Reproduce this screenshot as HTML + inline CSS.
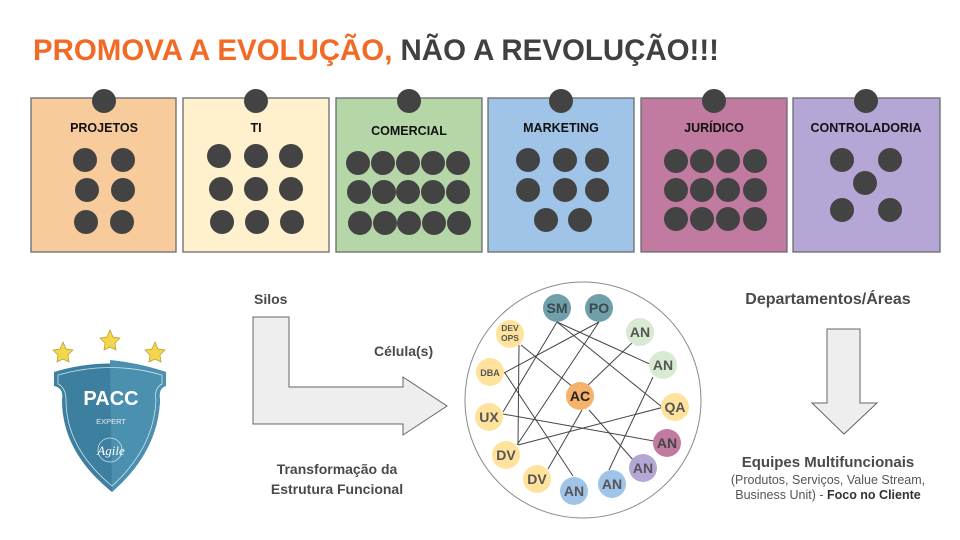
<!DOCTYPE html>
<html><head><meta charset="utf-8"><style>
html,body{margin:0;padding:0;background:#fff;}
svg{display:block;font-family:"Liberation Sans",sans-serif;}
</style></head><body>
<svg width="960" height="540" viewBox="0 0 960 540" xmlns="http://www.w3.org/2000/svg">
<text x="33" y="60" font-size="30" font-weight="bold" textLength="686" lengthAdjust="spacingAndGlyphs"><tspan fill="#f26a25">PROMOVA A EVOLUÇÃO,</tspan><tspan fill="#404040"> NÃO A REVOLUÇÃO!!!</tspan></text>

<g stroke="#6b6b6b" stroke-width="1.3">
<rect x="31" y="98" width="145" height="154" fill="#f8cb9d"/>
<rect x="183" y="98" width="146" height="154" fill="#fff1cd"/>
<rect x="336" y="98" width="146" height="154" fill="#b5d7a8"/>
<rect x="488" y="98" width="146" height="154" fill="#9fc4e8"/>
<rect x="641" y="98" width="146" height="154" fill="#c27ba0"/>
<rect x="793" y="98" width="147" height="154" fill="#b4a7d6"/>
</g>
<g fill="#434343">
<circle cx="104" cy="101" r="12"/><circle cx="256" cy="101" r="12"/><circle cx="409" cy="101" r="12"/>
<circle cx="561" cy="101" r="12"/><circle cx="714" cy="101" r="12"/><circle cx="866" cy="101" r="12"/>
</g>
<g font-size="12.5" font-weight="bold" fill="#111" text-anchor="middle">
<text x="104" y="132">PROJETOS</text><text x="256" y="132">TI</text><text x="409" y="135">COMERCIAL</text>
<text x="561" y="132">MARKETING</text><text x="714" y="132">JURÍDICO</text><text x="866" y="132">CONTROLADORIA</text>
</g>
<g fill="#434343">
<circle cx="85" cy="160" r="12"/><circle cx="123" cy="160" r="12"/>
<circle cx="87" cy="190" r="12"/><circle cx="123" cy="190" r="12"/>
<circle cx="86" cy="222" r="12"/><circle cx="122" cy="222" r="12"/>
<circle cx="219" cy="156" r="12"/><circle cx="256" cy="156" r="12"/><circle cx="291" cy="156" r="12"/>
<circle cx="221" cy="189" r="12"/><circle cx="256" cy="189" r="12"/><circle cx="291" cy="189" r="12"/>
<circle cx="222" cy="222" r="12"/><circle cx="257" cy="222" r="12"/><circle cx="292" cy="222" r="12"/>
<circle cx="358" cy="163" r="12"/><circle cx="383" cy="163" r="12"/><circle cx="408" cy="163" r="12"/><circle cx="433" cy="163" r="12"/><circle cx="458" cy="163" r="12"/>
<circle cx="359" cy="192" r="12"/><circle cx="384" cy="192" r="12"/><circle cx="408" cy="192" r="12"/><circle cx="433" cy="192" r="12"/><circle cx="458" cy="192" r="12"/>
<circle cx="360" cy="223" r="12"/><circle cx="385" cy="223" r="12"/><circle cx="409" cy="223" r="12"/><circle cx="434" cy="223" r="12"/><circle cx="459" cy="223" r="12"/>
<circle cx="528" cy="160" r="12"/><circle cx="565" cy="160" r="12"/><circle cx="597" cy="160" r="12"/>
<circle cx="528" cy="190" r="12"/><circle cx="565" cy="190" r="12"/><circle cx="597" cy="190" r="12"/>
<circle cx="546" cy="220" r="12"/><circle cx="580" cy="220" r="12"/>
<circle cx="676" cy="161" r="12"/><circle cx="702" cy="161" r="12"/><circle cx="728" cy="161" r="12"/><circle cx="755" cy="161" r="12"/>
<circle cx="676" cy="190" r="12"/><circle cx="702" cy="190" r="12"/><circle cx="728" cy="190" r="12"/><circle cx="755" cy="190" r="12"/>
<circle cx="676" cy="219" r="12"/><circle cx="702" cy="219" r="12"/><circle cx="728" cy="219" r="12"/><circle cx="755" cy="219" r="12"/>
<circle cx="842" cy="160" r="12"/><circle cx="890" cy="160" r="12"/><circle cx="865" cy="183" r="12"/>
<circle cx="842" cy="210" r="12"/><circle cx="890" cy="210" r="12"/>
</g>

<g>
<path d="M63,340 l3,7 7,1 -5,5 1,7 -6,-3 -6,3 1,-7 -5,-5 7,-1z" transform="translate(0,2)" fill="#f2d64b" stroke="#b59a2a" stroke-width="0.7"/>
<path d="M110,330 l3,7 7,1 -5,5 1,7 -6,-3 -6,3 1,-7 -5,-5 7,-1z" fill="#f2d64b" stroke="#b59a2a" stroke-width="0.7"/>
<path d="M155,342 l3,7 7,1 -5,5 1,7 -6,-3 -6,3 1,-7 -5,-5 7,-1z" fill="#f2d64b" stroke="#b59a2a" stroke-width="0.7"/>
<path d="M54,372 Q110,355 166,372 L166,386 Q158,388 160,400 Q158,452 112,492 Q62,452 62,400 Q64,388 54,386 Z" fill="#3d7f9f"/>
<path d="M110,360 Q140,363 166,372 L166,386 Q158,388 160,400 Q158,452 112,492 Z" fill="#4b90ae"/>
<path d="M58,375 Q110,360 162,375 L162,384 Q154,388 156,400 Q154,448 112,486 Q66,448 66,400 Q66,388 58,384 Z" fill="none" stroke="#cfe3ec" stroke-width="0.8"/>
<text x="111" y="405" font-size="20" font-weight="bold" fill="#fff" text-anchor="middle">PACC</text>
<text x="111" y="424" font-size="7.5" fill="#e6f0f5" text-anchor="middle">EXPERT</text>
<circle cx="110" cy="450" r="12" fill="none" stroke="#cfe3ec" stroke-width="0.8"/>
<text x="111" y="455" font-size="13" font-style="italic" font-family="Liberation Serif,serif" fill="#fff" text-anchor="middle">Agile</text>
</g>

<path d="M253,317 L289,317 L289,387 L403,387 L403,377 L447,406 L403,435 L403,424 L253,424 Z" fill="#eeeeee" stroke="#666" stroke-width="1"/>
<g fill="#4a4a4a" font-weight="bold">
<text x="254" y="304" font-size="14">Silos</text>
<text x="374" y="356" font-size="14">Célula(s)</text>
<text x="337" y="474" font-size="14" text-anchor="middle">Transformação da</text>
<text x="337" y="494" font-size="14" text-anchor="middle">Estrutura Funcional</text>
<text x="828" y="304" font-size="16" text-anchor="middle">Departamentos/Áreas</text>
<text x="828" y="467" font-size="15" text-anchor="middle">Equipes Multifuncionais</text>
</g>
<text x="828" y="484" font-size="12.5" fill="#555" text-anchor="middle">(Produtos, Serviços, Value Stream,</text>
<text x="828" y="499" font-size="12.5" fill="#555" text-anchor="middle">Business Unit) - <tspan font-weight="bold" fill="#333">Foco no Cliente</tspan></text>
<path d="M827,329 L860,329 L860,403 L877,403 L844,434 L812,403 L827,403 Z" fill="#eeeeee" stroke="#666" stroke-width="1"/>

<circle cx="583" cy="400" r="118" fill="#fff" stroke="#888" stroke-width="1"/>
<g stroke="#444" stroke-width="1">
<line x1="557" y1="322" x2="503" y2="412"/>
<line x1="557" y1="322" x2="654" y2="366"/>
<line x1="557" y1="322" x2="662" y2="407"/>
<line x1="599" y1="322" x2="504" y2="373"/>
<line x1="599" y1="322" x2="517" y2="445"/>
<line x1="519" y1="345" x2="518" y2="444"/>
<line x1="521" y1="345" x2="573" y2="387"/>
<line x1="505" y1="373" x2="573" y2="476"/>
<line x1="635" y1="340" x2="585" y2="388"/>
<line x1="653" y1="377" x2="609" y2="470"/>
<line x1="664" y1="407" x2="518" y2="445"/>
<line x1="503" y1="414" x2="654" y2="441"/>
<line x1="582" y1="410" x2="548" y2="469"/>
<line x1="589" y1="410" x2="634" y2="461"/>
</g>
<g font-weight="bold" text-anchor="middle">
<circle cx="557" cy="308" r="14" fill="#6fa0aa"/><text x="557" y="313" font-size="14" fill="#3a4a4e">SM</text>
<circle cx="599" cy="308" r="14" fill="#6fa0aa"/><text x="599" y="313" font-size="14" fill="#3a4a4e">PO</text>
<circle cx="640" cy="332" r="14" fill="#d9ead3"/><text x="640" y="337" font-size="14" fill="#555">AN</text>
<circle cx="663" cy="365" r="14" fill="#d9ead3"/><text x="663" y="370" font-size="14" fill="#555">AN</text>
<circle cx="675" cy="407" r="14" fill="#ffe39c"/><text x="675" y="412" font-size="14" fill="#555">QA</text>
<circle cx="667" cy="443" r="14" fill="#c27ba0"/><text x="667" y="448" font-size="14" fill="#444">AN</text>
<circle cx="643" cy="468" r="14" fill="#b4a7d6"/><text x="643" y="473" font-size="14" fill="#555">AN</text>
<circle cx="612" cy="484" r="14" fill="#9fc4e8"/><text x="612" y="489" font-size="14" fill="#555">AN</text>
<circle cx="574" cy="491" r="14" fill="#9fc4e8"/><text x="574" y="496" font-size="14" fill="#555">AN</text>
<circle cx="537" cy="479" r="14" fill="#ffe39c"/><text x="537" y="484" font-size="14" fill="#555">DV</text>
<circle cx="506" cy="455" r="14" fill="#ffe39c"/><text x="506" y="460" font-size="14" fill="#555">DV</text>
<circle cx="489" cy="417" r="14" fill="#ffe39c"/><text x="489" y="422" font-size="14" fill="#555">UX</text>
<circle cx="490" cy="372" r="14" fill="#ffe39c"/><text x="490" y="376" font-size="9" fill="#555">DBA</text>
<circle cx="510" cy="334" r="14" fill="#ffe39c"/><text x="510" y="331" font-size="8.5" fill="#555">DEV</text><text x="510" y="341" font-size="8.5" fill="#555">OPS</text>
<circle cx="580" cy="396" r="14" fill="#f6b26b"/><text x="580" y="401" font-size="14" fill="#222">AC</text>
</g>
</svg>
</body></html>
